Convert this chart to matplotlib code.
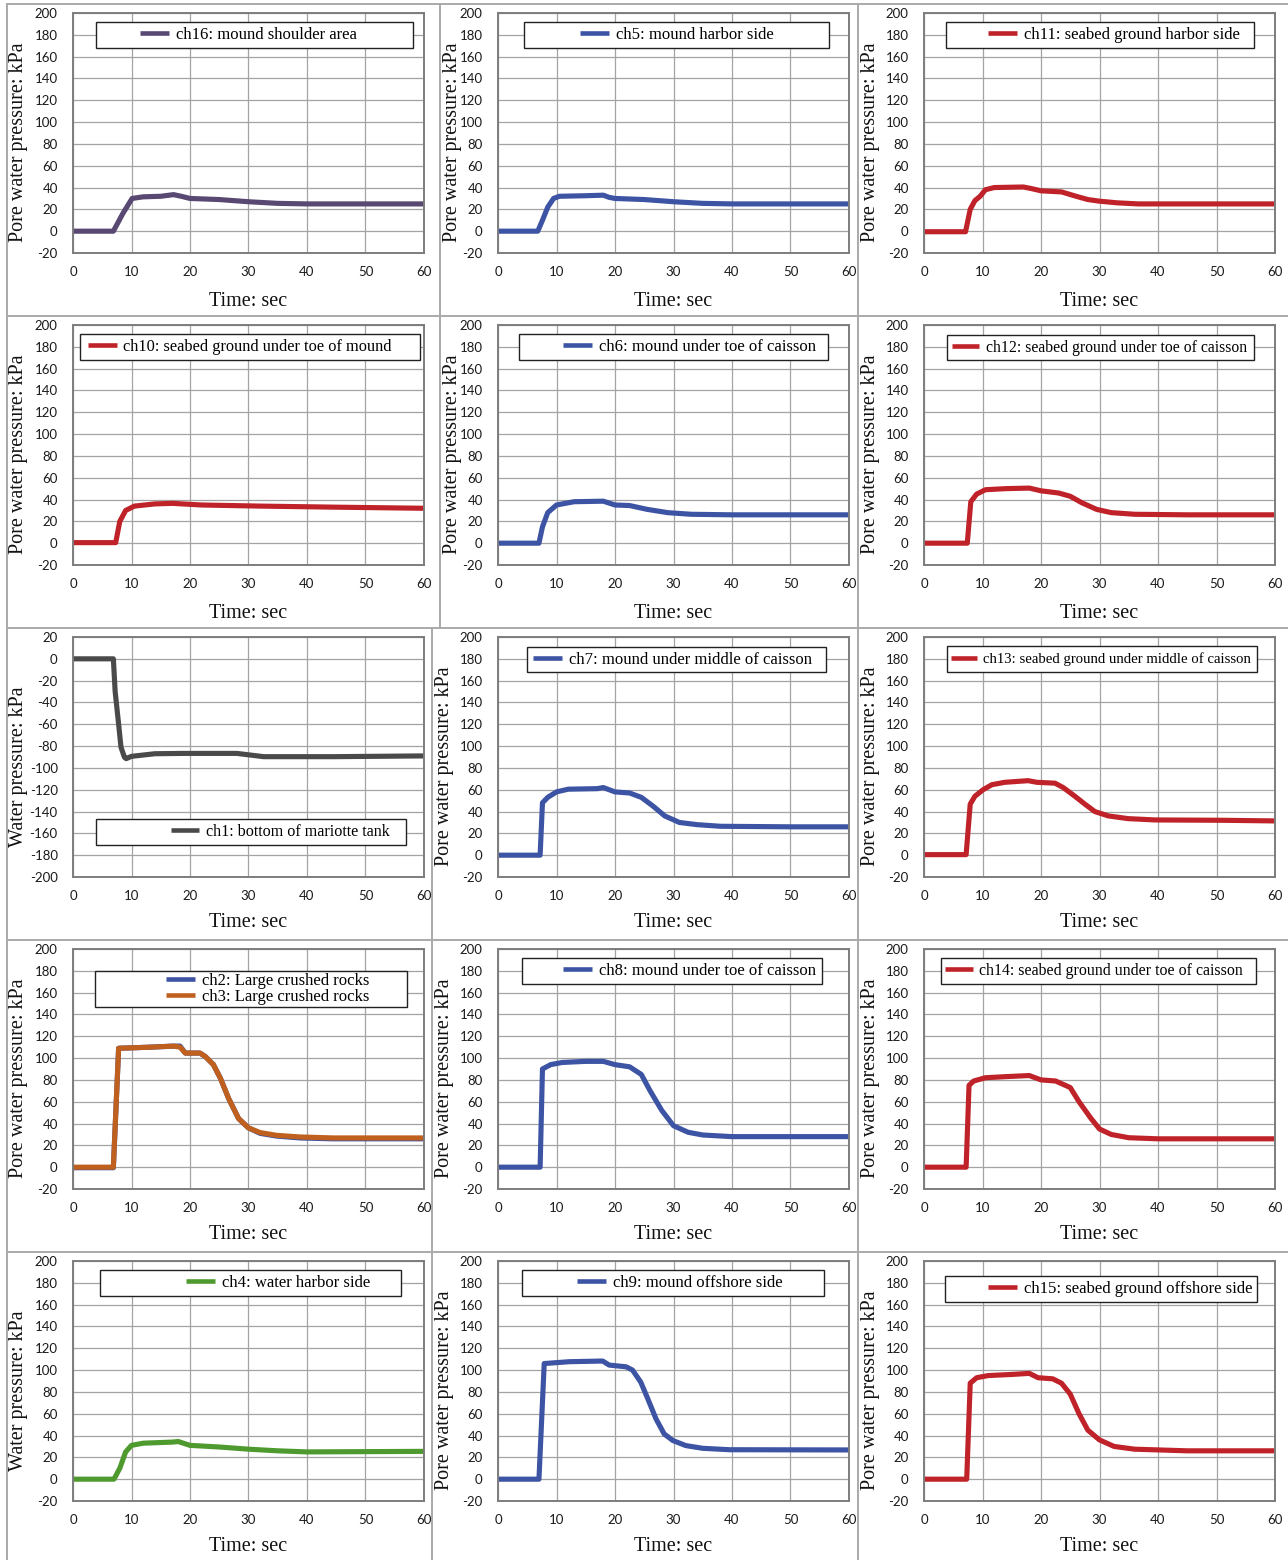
import matplotlib
matplotlib.use("Agg")
import matplotlib.pyplot as plt
from matplotlib.lines import Line2D
from matplotlib.patches import Rectangle

# ---- measured time histories (time in s, pressure in kPa) ----
t_ch16 = [0, 6.9, 8.5, 10.1, 12, 15, 17.2, 18.5, 20, 25, 30, 35, 40, 60]
p_ch16 = [0, 0, 16, 30, 31.5, 32, 33.5, 32, 30, 29, 27, 25.5, 25, 25]

t_ch5 = [0, 6.8, 7.6, 8.5, 9.5, 10.5, 15, 18, 19, 20, 25, 30, 35, 40, 60]
p_ch5 = [0, 0, 10, 22, 30, 32, 32.5, 33, 31, 30, 29, 27, 25.5, 25, 25]

t_ch11 = [0, 7.1, 7.9, 8.7, 9.6, 10.5, 12, 17, 18.4, 20, 23.5, 26, 28, 30, 33, 36.6, 60]
p_ch11 = [-0.5, -0.5, 20, 28, 32, 38, 40, 40.5, 39, 37, 36, 32, 29, 27.5, 26, 25, 25]

t_ch10 = [0, 7.3, 8, 9, 10.5, 14, 17, 22, 32, 45, 60]
p_ch10 = [0.5, 0.5, 20, 30, 34, 36, 36.5, 35, 34, 33, 32]

t_ch6 = [0, 7, 7.6, 8.5, 10, 13, 18, 20, 22.5, 25.5, 29, 33, 40, 60]
p_ch6 = [0, 0, 15, 28, 35, 38, 38.5, 35, 34.5, 31, 28, 26.5, 26, 26]

t_ch12 = [0, 7.4, 8, 9, 10.5, 14, 18, 20, 23, 25, 27, 29.5, 32, 36, 45, 60]
p_ch12 = [0, 0, 38, 45, 49, 50, 50.5, 48, 46, 43, 37, 31, 28, 26.5, 26, 26]

t_ch1 = [0, 6.9, 7.2, 7.8, 8.2, 8.8, 9.1, 10, 14, 18.9, 28, 30, 32.6, 44.5, 60]
p_ch1 = [0, 0, -29.7, -60, -81, -90.3, -91.5, -89.4, -87, -86.7, -86.7, -88, -89.7, -89.7, -89]

t_ch7 = [0, 7.2, 7.6, 8.5, 10, 12, 17, 18, 20, 22.5, 24.5, 26.5, 28.5, 31, 34, 38, 50, 60]
p_ch7 = [0, 0, 48, 53, 58, 60.5, 61, 62, 58, 57, 53, 45, 36, 30, 28, 26.5, 26, 26]

t_ch13 = [0, 7.2, 7.9, 8.7, 10.1, 11.6, 13.8, 17.8, 19.3, 22.4, 23.8, 25.8, 27.5, 29.2, 31.5, 34.9, 39.5, 50.9, 60]
p_ch13 = [0.5, 0.5, 46.8, 54, 60, 64.6, 66.8, 68.3, 66.8, 66, 62, 54, 46.8, 40, 36, 33.5, 32.3, 32, 31.4]

t_ch2 = [0, 6.9, 7.8, 13.2, 17.2, 18.3, 19.2, 21.7, 22.6, 24, 25.2, 26.6, 28.3, 30, 32, 34.8, 38.8, 44.5, 60]
p_ch2 = [-0.5, -0.5, 109, 110, 111, 111, 104.6, 104.6, 101.5, 94, 81.5, 63, 44.6, 36, 31, 28.5, 26.8, 26, 26]

t_ch3 = [0, 6.9, 7.8, 13.2, 17.2, 18.3, 19.2, 21.7, 22.6, 24, 25.2, 26.6, 28.3, 30, 32, 34.8, 38.8, 44.5, 60]
p_ch3 = [0, 0, 109, 110, 111, 110, 104.6, 104.6, 101.5, 94, 81.5, 63, 44.6, 36, 31.7, 29.2, 27.7, 26.8, 26.8]

t_ch8 = [0, 7.2, 7.6, 9, 11, 15, 18, 20, 22.5, 24.5, 26, 28, 30, 32.5, 35, 40, 60]
p_ch8 = [0, 0, 90, 94, 96, 97, 97, 94, 92, 85, 70, 52, 38, 32, 29.5, 28, 28]

t_ch14 = [0, 7.2, 7.7, 8.5, 10.5, 14, 18, 20, 22.5, 25, 26.5, 28.5, 30, 32, 35, 40, 60]
p_ch14 = [0, 0, 75, 79, 82, 83, 84, 80, 79, 73, 60, 45, 35, 30, 27, 26, 26]

t_ch4 = [0, 7, 8, 9, 10, 12, 17, 18, 20, 25, 30, 35, 40, 60]
p_ch4 = [0, 0, 10, 25, 31, 33, 34, 34.5, 31, 29.5, 27.5, 26, 25, 25.5]

t_ch9 = [0, 7.0, 7.9, 12.2, 17.9, 19, 21.9, 23, 24.4, 25.6, 27, 28.4, 29.9, 32.1, 35, 39.6, 60]
p_ch9 = [0, 0, 106, 107.7, 108.3, 104.6, 103, 100, 89, 73.8, 55.4, 41.5, 35.4, 30.8, 28.3, 27, 26.8]

t_ch15 = [0, 7.3, 7.9, 9, 11, 15, 18, 19.5, 22, 23.5, 25, 26.5, 28, 30, 32.5, 36, 45, 60]
p_ch15 = [0, 0, 88, 93, 95, 96, 97, 93, 92, 88, 78, 60, 45, 36, 30, 27.5, 26, 26]

x_ticks = [0, 10, 20, 30, 40, 50, 60]
y_ticks_pore = [-20, 0, 20, 40, 60, 80, 100, 120, 140, 160, 180, 200]
y_ticks_tank = [-200, -180, -160, -140, -120, -100, -80, -60, -40, -20, 0, 20]

PURPLE = "#584872"
BLUE = "#3d53a3"
RED = "#bf2228"
GRAY = "#4a4a4a"
ORANGE = "#c0601f"
GREEN = "#4f9a2f"

# panel layout: (row, col, series, ylabel, yticks, legend box [dx0, dx1, dy0, dy1] px,
#                legend line start dx px, legend font size)
panels = [
    (0, 0, [("ch16: mound shoulder area", t_ch16, p_ch16, PURPLE)], "Pore water pressure: kPa", y_ticks_pore, (23, 340, 9, 35), 67, 12),
    (0, 1, [("ch5: mound harbor side", t_ch5, p_ch5, BLUE)], "Pore water pressure: kPa", y_ticks_pore, (26, 331, 9, 35), 82, 12),
    (0, 2, [("ch11: seabed ground harbor side", t_ch11, p_ch11, RED)], "Pore water pressure: kPa", y_ticks_pore, (22, 330, 9, 35), 64, 12),
    (1, 0, [("ch10: seabed ground under toe of mound", t_ch10, p_ch10, RED)], "Pore water pressure: kPa", y_ticks_pore, (7, 347, 9, 35), 15, 11.8),
    (1, 1, [("ch6: mound under toe of caisson", t_ch6, p_ch6, BLUE)], "Pore water pressure: kPa", y_ticks_pore, (21, 330, 9, 35), 65, 12),
    (1, 2, [("ch12: seabed ground under toe of caisson", t_ch12, p_ch12, RED)], "Pore water pressure: kPa", y_ticks_pore, (23, 330, 10, 35), 28, 11.3),
    (2, 0, [("ch1: bottom of mariotte tank", t_ch1, p_ch1, GRAY)], "Water pressure: kPa", y_ticks_tank, (23, 333, 182, 208), 98, 11.6),
    (2, 1, [("ch7: mound under middle of caisson", t_ch7, p_ch7, BLUE)], "Pore water pressure: kPa", y_ticks_pore, (29, 328, 10, 35), 35, 12),
    (2, 2, [("ch13: seabed ground under middle of caisson", t_ch13, p_ch13, RED)], "Pore water pressure: kPa", y_ticks_pore, (23, 333, 9, 35), 27, 10.65),
    (3, 0, [("ch2: Large crushed rocks", t_ch2, p_ch2, BLUE), ("ch3: Large crushed rocks", t_ch3, p_ch3, ORANGE)], "Pore water pressure: kPa", y_ticks_pore, (22, 334, 22, 58), 93, 12),
    (3, 1, [("ch8: mound under toe of caisson", t_ch8, p_ch8, BLUE)], "Pore water pressure: kPa", y_ticks_pore, (24, 324, 9, 35), 65, 12),
    (3, 2, [("ch14: seabed ground under toe of caisson", t_ch14, p_ch14, RED)], "Pore water pressure: kPa", y_ticks_pore, (17, 332, 9, 35), 21, 11.4),
    (4, 0, [("ch4: water harbor side", t_ch4, p_ch4, GREEN)], "Water pressure: kPa", y_ticks_pore, (27, 328, 9, 35), 113, 12),
    (4, 1, [("ch9: mound offshore side", t_ch9, p_ch9, BLUE)], "Pore water pressure: kPa", y_ticks_pore, (24, 326, 9, 35), 79, 12),
    (4, 2, [("ch15: seabed ground offshore side", t_ch15, p_ch15, RED)], "Pore water pressure: kPa", y_ticks_pore, (21, 333, 15, 41), 64, 12),
]

W, H = 1288, 1560
plt.rcParams["font.family"] = ["Lato", "DejaVu Sans"]
plt.rcParams["axes.unicode_minus"] = False
SERIF = "Liberation Serif"

fig = plt.figure(figsize=(W / 100, H / 100), dpi=100)
fig.patch.set_facecolor("white")

AX_W, AX_H = 351, 240
col_left = [73, 498, 924]
ylabel_x = {0: 18, 1: 452, 2: 870}
ylabel_x_low = {0: 18, 1: 445, 2: 870}

for row, col, series, ylab, yticks, box, lstart, lfs in panels:
    top = 13 + 312 * row
    left = col_left[col]
    ax = fig.add_axes([left / W, (H - top - AX_H) / H, AX_W / W, AX_H / H])
    ax.set_xlim(0, 60)
    ax.set_ylim(yticks[0], yticks[-1])
    ax.set_xticks(x_ticks)
    ax.set_yticks(yticks)
    ax.grid(True, color="#a3a3a3", linewidth=0.9)
    ax.set_axisbelow(True)
    for sp in ax.spines.values():
        sp.set_color("#7d7d7d")
        sp.set_linewidth(1.4)
    ax.tick_params(length=0, labelsize=9.5, pad=9, colors="#1a1a1a")
    ax.tick_params(axis="y", pad=11)

    handles = []
    for label, t, p, color in series:
        (ln,) = ax.plot(t, p, color=color, linewidth=3.7, solid_joinstyle="round",
                        solid_capstyle="butt", label=label, zorder=2)
        handles.append(ln)

    # framed legend box
    dx0, dx1, dy0, dy1 = box
    ax.add_patch(Rectangle((dx0 / AX_W, 1 - dy1 / AX_H), (dx1 - dx0) / AX_W, (dy1 - dy0) / AX_H,
                           transform=ax.transAxes, facecolor="white", edgecolor="#222222",
                           linewidth=1.0, zorder=4, clip_on=False))
    leg = ax.legend(handles=handles, loc="center left",
                    bbox_to_anchor=(lstart / AX_W, 1 - (dy0 + dy1) / 2 / AX_H),
                    frameon=False, borderpad=0, borderaxespad=0, handlelength=1.75,
                    handletextpad=0.4, labelspacing=0.0,
                    prop={"family": SERIF, "size": lfs})
    leg.set_zorder(5)
    for lh in leg.legend_handles:
        lh.set_linewidth(3.3)

    lx = (ylabel_x[col] if row < 2 else ylabel_x_low[col])
    ax.set_ylabel(ylab, family=SERIF, fontsize=14.5, color="#111111")
    ax.yaxis.set_label_coords((lx - left) / AX_W, 0.46)
    ax.set_xlabel("Time: sec", family=SERIF, fontsize=14.5, color="#111111")
    ax.xaxis.set_label_coords(0.5, -0.20 if row < 2 else -0.19)
    ax.xaxis.label.set_va("center")
    ax.yaxis.label.set_va("center")

# panel frame lines
def hline(y, x0, x1):
    fig.add_artist(Line2D([x0 / W, x1 / W], [1 - y / H, 1 - y / H], color="#aaaaaa", linewidth=1.4))

def vline(x, y0, y1):
    fig.add_artist(Line2D([x / W, x / W], [1 - y0 / H, 1 - y1 / H], color="#aaaaaa", linewidth=1.4))

for y in [4, 316, 628, 940, 1252]:
    hline(y, 7, W)
vline(7, 4, H)
vline(440, 4, 628)
vline(432, 628, H)
vline(858, 4, H)

fig.savefig("out.png", dpi=100, facecolor="white")
